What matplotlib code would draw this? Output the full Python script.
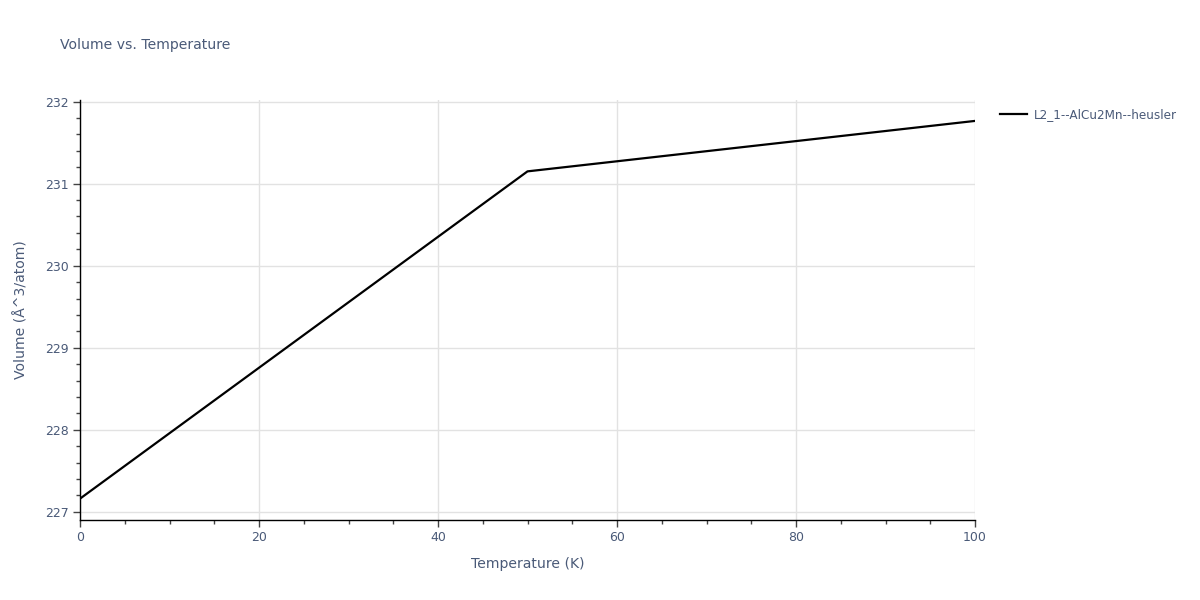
import matplotlib
matplotlib.use("Agg")
import matplotlib.pyplot as plt
from matplotlib.ticker import MultipleLocator

# data
temperature = [0, 50, 100]
volume = [227.16, 231.15, 231.765]
series_name = "L2_1--AlCu2Mn--heusler"

text_color = "#4a5a78"
grid_color = "#e2e2e2"
px = 72 / 100  # plotly px -> pt at dpi 100

plt.rcParams["font.family"] = ["DejaVu Sans"]

fig = plt.figure(figsize=(12, 6), dpi=100)
ax = fig.add_axes([80 / 1200, 1 - 520 / 600, 895 / 1200, 420 / 600])

ax.plot(temperature, volume, color="black", lw=1.6, label=series_name)

ax.set_xlim(0, 100)
ax.set_ylim(226.9, 232.02)
ax.xaxis.set_major_locator(MultipleLocator(20))
ax.xaxis.set_minor_locator(MultipleLocator(5))
ax.yaxis.set_major_locator(MultipleLocator(1))
ax.yaxis.set_minor_locator(MultipleLocator(0.2))

ax.grid(True, which="major", color=grid_color, lw=1)
ax.set_axisbelow(True)
for s in ["top", "right"]:
    ax.spines[s].set_visible(False)
for s in ["left", "bottom"]:
    ax.spines[s].set_color("black")
    ax.spines[s].set_linewidth(1)

ax.tick_params(which="major", direction="out", length=5, width=1, color="#444444",
               labelsize=12.5 * px, labelcolor=text_color, pad=3)
ax.tick_params(which="minor", direction="out", length=3, width=1, color="#444444")

ax.set_xlabel("Temperature (K)", fontsize=14 * px, color=text_color, labelpad=9)
ax.set_ylabel("Volume (Å^3/atom)", fontsize=14 * px, color=text_color, labelpad=12)

fig.text(60 / 1200, 1 - 45 / 600, "Volume vs. Temperature", fontsize=14 * px,
         color=text_color, va="center", ha="left")

leg = ax.legend(loc="upper left", bbox_to_anchor=(1.018, 1.0), frameon=False,
                fontsize=12 * px, handlelength=2.3, handletextpad=0.6,
                borderaxespad=0.3)
for t in leg.get_texts():
    t.set_color(text_color)

fig.savefig("out.png", dpi=100)
